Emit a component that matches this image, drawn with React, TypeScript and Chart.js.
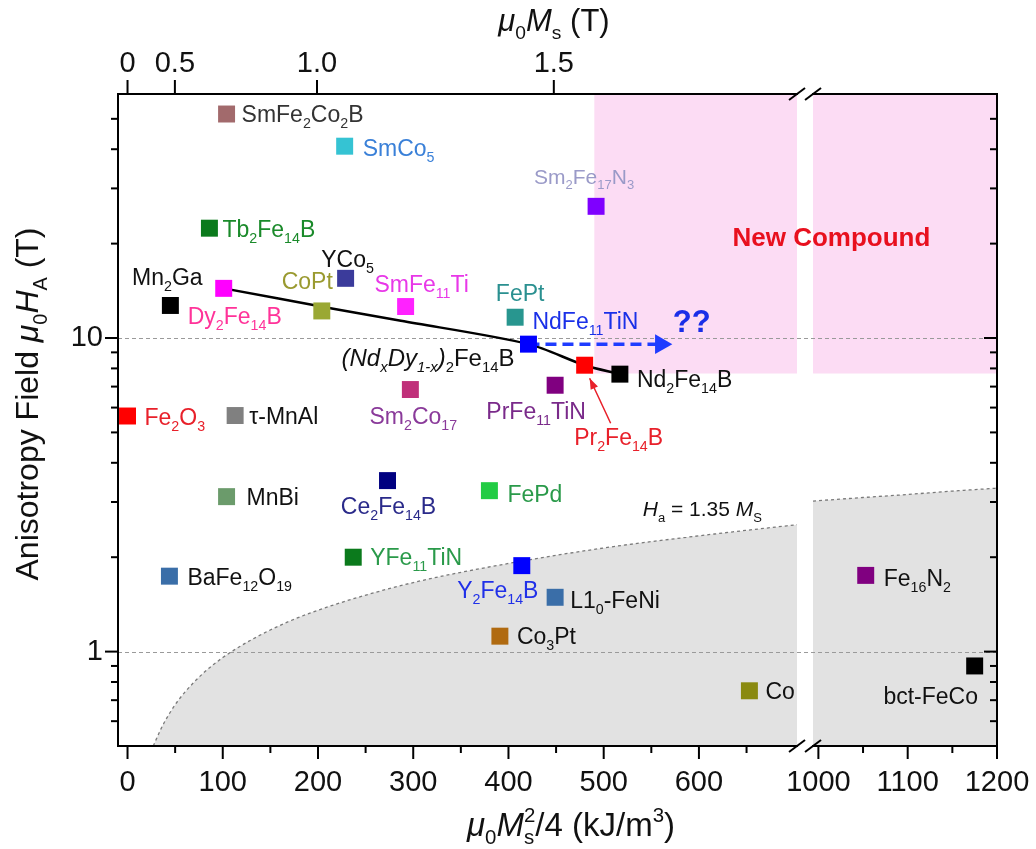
import React, { useEffect, useRef } from 'react';
import { Chart, registerables, LinearScale } from 'chart.js';

// ---------------- data ----------------
const compounds = [
  'SmFe_2Co_2B', 'SmCo_5', 'Sm_2Fe_{17}N_3', 'Tb_2Fe_{14}B', 'YCo_5', 'Mn_2Ga', 'Dy_2Fe_{14}B',
  'CoPt', 'SmFe_{11}Ti', 'FePt', 'NdFe_{11}TiN', 'Pr_2Fe_{14}B', 'Nd_2Fe_{14}B', 'PrFe_{11}TiN',
  'Sm_2Co_{17}', 'Fe_2O_3', 'τ-MnAl', 'MnBi', 'Ce_2Fe_{14}B', 'FePd', 'YFe_{11}TiN',
  'BaFe_{12}O_{19}', 'Y_2Fe_{14}B', 'L1_0-FeNi', 'Co_3Pt', 'Co', 'Fe_{16}N_2', 'bct-FeCo',
];
// μ0Ms²/4 (kJ/m³)
const energyDensity = [
  104, 228, 492, 86, 229, 45, 101,
  204, 292, 407, 421, 480, 517, 449,
  297, 0, 113, 104, 273, 380, 237,
  44, 414, 449, 391, 653, 1053, 1175,
];
// μ0HA (T)
const anisotropyField = [
  51.8, 40.9, 26.3, 22.4, 15.5, 12.7, 14.4,
  12.2, 12.6, 11.65, 9.56, 8.19, 7.67, 7.07,
  6.85, 5.64, 5.66, 3.12, 3.51, 3.26, 2.0,
  1.74, 1.88, 1.49, 1.12, 0.75, 1.75, 0.9,
];

// (NdxDy1-x)2Fe14B line
const ndDyX = [101, 216, 287, 421, 480, 517];
const ndDyY = [14.4, 12.4, 11.35, 9.56, 8.19, 7.67];

// dashed "??" arrow
const arrowX = [421, 560];
const arrowY = [9.56, 9.56];

// Ha = 1.35 Ms boundary
const limitLeftX = [27, 30, 35, 40, 50, 60, 80, 100, 130, 170, 220, 300, 400, 500, 600, 703];
const limitLeftY = [0.5, 0.524, 0.566, 0.605, 0.677, 0.741, 0.856, 0.957, 1.09, 1.25, 1.42, 1.66, 1.91, 2.14, 2.34, 2.54];
const limitRightX = [994, 1050, 1100, 1150, 1200];
const limitRightY = [3.02, 3.1, 3.17, 3.25, 3.32];

// "New Compound" region
const newCompoundLeftX = [490, 703];
const newCompoundRightX = [994, 1200];
const newCompoundMinField = 7.7;

// axes
const bottomTicks = [0, 100, 200, 300, 400, 500, 600, 1000, 1100, 1200];
const bottomMinorTicks = [50, 150, 250, 350, 450, 550, 650, 1050, 1150];
const topTicksTesla = [0, 0.5, 1.0, 1.5];
const topTickLabels = ['0', '0.5', '1.0', '1.5'];
const yMajorTicks = [1, 10];
const yMinorTicks = [0.6, 0.7, 0.8, 0.9, 2, 3, 4, 5, 6, 7, 8, 9, 20, 30, 40, 50];

// ---------------- styles ----------------
const markerColors = [
  '#a26a6c', '#35c3d3', '#7f00ff', '#0b7a1c', '#3b3b9b', '#000000', '#ff00ff',
  '#9aa834', '#ff22ff', '#28968f', '#0000ff', '#ff0000', '#000000', '#800080',
  '#c0307a', '#ff0000', '#808080', '#6b9b6b', '#000080', '#22cc44', '#0b7a1c',
  '#3a6ea8', '#0000ff', '#3a6ea8', '#b06a10', '#8a8a10', '#800080', '#000000',
];
const labelColors = [
  '#333333', '#3a80d8', '#9a9ac8', '#1a8a2a', '#111111', '#111111', '#ff3399',
  '#9a9a30', '#e838e8', '#2a9090', '#1a30e8', '#e8202a', '#111111', '#7a2a8a',
  '#8a3a9a', '#e8202a', '#111111', '#111111', '#2a2a8a', '#2a9a4a', '#2a9a4a',
  '#111111', '#2030e8', '#111111', '#111111', '#111111', '#111111', '#111111',
];
// [dx, dy, align, size] relative to marker centre (px)
const labelPlacement: any[] = [
  [15, 0, 'left', 23], [18, 2, 'left', 23], [-12, -30, 'center', 21], [13, 1, 'left', 23],
  [2, -20, 'center', 23], [-3, -29, 'center', 23], [11, 27, 'center', 23],
  [11, -30, 'right', 23], [16, -23, 'center', 23], [5, -24, 'center', 23], [4, -23, 'left', 23],
  [34, 72, 'center', 23], [17, 5, 'left', 23], [-19, 26, 'center', 23],
  [3, 26, 'center', 23], [17, 1, 'left', 23], [14, 0, 'left', 23], [20, 0, 'left', 23],
  [1, 25, 'center', 23], [18, 3, 'left', 23], [17, 0, 'left', 23],
  [18, 1, 'left', 23], [-24, 24, 'center', 23], [15, 2, 'left', 23], [17, 0, 'left', 23],
  [16, 0, 'left', 23], [18, 2, 'left', 23], [-44, 30, 'center', 23],
];

const FONT = '"Liberation Sans", Arial, Helvetica, sans-serif';
const AXIS_BREAK = { lo: 703, hi: 994, fracLo: 0.7725, fracHi: 0.7907 };
const MU0 = 4 * Math.PI * 1e-7;
const teslaToKJ = (t: number) => (t * t) / (4 * MU0) / 1000;

// ---------------- broken linear scale ----------------
class BrokenLinearScale extends (LinearScale as any) {
  static id = 'brokenLinear';
  static defaults = (LinearScale as any).defaults;
  toDecimal(v: number) {
    const { lo, hi, fracLo, fracHi } = AXIS_BREAK;
    const min = this.min;
    const max = this.max;
    if (v <= lo) return ((v - min) / (lo - min)) * fracLo;
    if (v >= hi) return fracHi + ((v - hi) / (max - hi)) * (1 - fracHi);
    return fracLo + ((v - lo) / (hi - lo)) * (fracHi - fracLo);
  }
  getPixelForValue(value: any) {
    if (value === null || value === undefined || Number.isNaN(value)) return NaN;
    return this.getPixelForDecimal(this.toDecimal(value));
  }
  getValueForPixel(pixel: number) {
    const d = this.getDecimalForPixel(pixel);
    const { lo, hi, fracLo, fracHi } = AXIS_BREAK;
    if (d <= fracLo) return this.min + (d / fracLo) * (lo - this.min);
    if (d >= fracHi) return hi + ((d - fracHi) / (1 - fracHi)) * (this.max - hi);
    return lo + ((d - fracLo) / (fracHi - fracLo)) * (hi - lo);
  }
  getPadding() {
    return { left: 0, top: 0, right: 0, bottom: 0 };
  }
}

Chart.register(...registerables, BrokenLinearScale as any);

// ---------------- rich text helper ----------------
type Run = { text: string; kind: 'n' | 'sub' | 'sup'; italic: boolean; stack: boolean };
function parseRich(s: string): Run[] {
  const runs: Run[] = [];
  let italic = false;
  let buf = '';
  let i = 0;
  const flush = () => {
    if (buf) {
      runs.push({ text: buf, kind: 'n', italic, stack: false });
      buf = '';
    }
  };
  while (i < s.length) {
    const c = s[i];
    if (c === '~') {
      flush();
      italic = !italic;
      i++;
      continue;
    }
    if (c === '_' || c === '^') {
      const hadBuf = buf.length > 0;
      flush();
      let t = '';
      if (s[i + 1] === '{') {
        const j = s.indexOf('}', i + 2);
        t = s.slice(i + 2, j);
        i = j + 1;
      } else {
        t = s[i + 1];
        i += 2;
      }
      const kind = c === '_' ? 'sub' : 'sup';
      const prev = runs[runs.length - 1];
      const stack = !hadBuf && !!prev && prev.kind !== 'n' && prev.kind !== kind;
      runs.push({ text: t, kind, italic, stack });
      continue;
    }
    buf += c;
    i++;
  }
  flush();
  return runs;
}

function drawRich(
  ctx: CanvasRenderingContext2D, s: string, x: number, y: number, size: number,
  color: string, align: string = 'left', bold = false,
) {
  const runs = parseRich(s);
  const small = size * 0.62;
  const fontFor = (r: Run) =>
    `${r.italic ? 'italic ' : ''}${bold ? 'bold ' : ''}${r.kind === 'n' ? size : small}px ${FONT}`;
  let w = 0;
  let lastW = 0;
  const xs: number[] = [];
  for (const r of runs) {
    ctx.font = fontFor(r);
    const rw = ctx.measureText(r.text).width;
    if (r.stack) {
      xs.push(w - lastW);
      w += Math.max(0, rw - lastW);
      lastW = Math.max(lastW, rw);
    } else {
      xs.push(w);
      w += rw;
      lastW = rw;
    }
  }
  const x0 = align === 'left' ? x : align === 'center' ? x - w / 2 : x - w;
  const base = y + 0.358 * size;
  ctx.save();
  ctx.fillStyle = color;
  ctx.textAlign = 'left';
  ctx.textBaseline = 'alphabetic';
  runs.forEach((r, k) => {
    ctx.font = fontFor(r);
    const dy = r.kind === 'sub' ? 0.26 * size : r.kind === 'sup' ? -0.42 * size : 0;
    ctx.fillText(r.text, x0 + xs[k], base + dy);
  });
  ctx.restore();
}

// ---------------- decoration plugin ----------------
const decorPlugin = {
  id: 'decor',
  beforeDatasetDraw(chart: any, args: any) {
    if (args.index !== 2) return;
    const { ctx, chartArea } = chart;
    const ys = chart.scales.y;
    ctx.save();
    ctx.strokeStyle = '#9a9a9a';
    ctx.lineWidth = 1;
    ctx.setLineDash([4, 3]);
    for (const v of yMajorTicks) {
      const py = Math.round(ys.getPixelForValue(v)) + 0.5;
      ctx.beginPath();
      ctx.moveTo(chartArea.left, py);
      ctx.lineTo(chartArea.right, py);
      ctx.stroke();
    }
    ctx.restore();
  },
  afterDatasetsDraw(chart: any) {
    const { ctx } = chart;
    const xs = chart.scales.x;
    const ys = chart.scales.y;
    const meta = chart.getDatasetMeta(0);
    meta.data.forEach((pt: any, i: number) => {
      const [dx, dy, align, size] = labelPlacement[i];
      drawRich(ctx, compounds[i], pt.x + dx, pt.y + dy, size, labelColors[i], align);
    });
    // arrow to Pr2Fe14B
    const pr = meta.data[11];
    const tx = pr.x + 26, ty = pr.y + 58, hx = pr.x + 5, hy = pr.y + 13;
    ctx.save();
    ctx.strokeStyle = '#e8202a';
    ctx.fillStyle = '#e8202a';
    ctx.lineWidth = 1.5;
    ctx.beginPath();
    ctx.moveTo(tx, ty);
    ctx.lineTo(hx, hy);
    ctx.stroke();
    const ang = Math.atan2(hy - ty, hx - tx);
    ctx.beginPath();
    ctx.moveTo(hx, hy);
    ctx.lineTo(hx - 11 * Math.cos(ang) + 4 * Math.sin(ang), hy - 11 * Math.sin(ang) - 4 * Math.cos(ang));
    ctx.lineTo(hx - 11 * Math.cos(ang) - 4 * Math.sin(ang), hy - 11 * Math.sin(ang) + 4 * Math.cos(ang));
    ctx.closePath();
    ctx.fill();
    ctx.restore();
    // line label
    const nd = chart.getDatasetMeta(2).data;
    drawRich(ctx, '~(Nd_xDy_{1-x})~_2Fe_{14}B', nd[3].x - 14, nd[3].y + 13, 24, '#111111', 'right');
    // arrow label
    const ar = chart.getDatasetMeta(1).data;
    drawRich(ctx, '??', ar[1].x + 12, ar[1].y - 23, 31, '#1a2ee8', 'left', true);
    // Ha label
    drawRich(ctx, '~H~_a = 1.35 ~M~_S', xs.getPixelForValue(541), ys.getPixelForValue(2.85), 21, '#111111', 'left');
    // New Compound
    drawRich(ctx, 'New Compound', xs.getPixelForValue(1000) + 13, ys.getPixelForValue(21), 26, '#e8101e', 'center', true);
  },
  afterDraw(chart: any) {
    const { ctx, chartArea } = chart;
    const { left, right, top, bottom } = chartArea;
    const xs = chart.scales.x;
    const ys = chart.scales.y;
    ctx.save();
    ctx.strokeStyle = '#000';
    ctx.lineWidth = 2;
    ctx.setLineDash([]);
    ctx.strokeRect(left, top, right - left, bottom - top);
    const line = (x1: number, y1: number, x2: number, y2: number) => {
      ctx.beginPath();
      ctx.moveTo(x1, y1);
      ctx.lineTo(x2, y2);
      ctx.stroke();
    };
    // bottom ticks
    for (const v of bottomTicks) {
      const px = xs.getPixelForValue(v);
      line(px, bottom, px, bottom + 13);
    }
    for (const v of bottomMinorTicks) {
      const px = xs.getPixelForValue(v);
      line(px, bottom, px, bottom + 7);
    }
    // top ticks
    for (const t of topTicksTesla) {
      const px = xs.getPixelForValue(teslaToKJ(t));
      line(px, top, px, top - 14);
    }
    // left & right ticks
    for (const v of yMajorTicks) {
      const py = ys.getPixelForValue(v);
      line(left - 13, py, left, py);
      line(right - 13, py, right, py);
    }
    for (const v of yMinorTicks) {
      const py = ys.getPixelForValue(v);
      line(left - 7, py, left, py);
      line(right - 7, py, right, py);
    }
    // axis break marks
    const bl = xs.getPixelForValue(AXIS_BREAK.lo);
    const bh = xs.getPixelForValue(AXIS_BREAK.hi);
    for (const yy of [top, bottom]) {
      ctx.fillStyle = '#fff';
      ctx.fillRect(bl + 1, yy - 3, bh - bl - 2, 6);
      line(bl - 8, yy + 6, bl + 8, yy - 6);
      line(bh - 8, yy + 6, bh + 8, yy - 6);
    }
    ctx.restore();
    // axis titles
    drawRich(ctx, '~μ~_0~M~_s (T)', 554, 20, 31, '#111111', 'center');
    drawRich(ctx, '~μ~_0~M~_s^2/4 (kJ/m^3)', 571, 824, 33, '#111111', 'center');
    ctx.save();
    ctx.translate(27, 404);
    ctx.rotate(-Math.PI / 2);
    drawRich(ctx, 'Anisotropy Field ~μ~_0~H~_A (T)', 0, 0, 32, '#111111', 'center');
    ctx.restore();
  },
};

export default function App() {
  const ref = useRef<HTMLCanvasElement>(null);
  useEffect(() => {
    const canvas = ref.current;
    if (!canvas) return;
    const pts = energyDensity.map((x, i) => ({ x, y: anisotropyField[i] }));
    const xy = (xa: number[], ya: number[]) => xa.map((x, i) => ({ x, y: ya[i] }));
    const flat = (xa: number[]) => xa.map((x) => ({ x, y: newCompoundMinField }));
    const tickFont = { family: FONT, size: 29 };
    const chart = new Chart(canvas, {
      type: 'scatter',
      data: {
        datasets: [
          {
            data: pts,
            pointStyle: 'rect',
            pointRadius: 12,
            pointBorderWidth: 0,
            backgroundColor: markerColors,
            pointBackgroundColor: markerColors,
            borderColor: 'rgba(0,0,0,0)',
          } as any,
          {
            type: 'line',
            data: xy(arrowX, arrowY),
            borderColor: '#1f3cff',
            borderWidth: 3.5,
            borderDash: [11, 6],
            pointStyle: 'triangle',
            pointRadius: [0, 11.5],
            pointRotation: 90,
            pointBackgroundColor: '#1f3cff',
            pointBorderWidth: 0,
            fill: false,
          } as any,
          {
            type: 'line',
            data: xy(ndDyX, ndDyY),
            borderColor: '#000000',
            borderWidth: 2.5,
            tension: 0.3,
            pointRadius: 0,
            fill: false,
          } as any,
          {
            type: 'line',
            data: xy(limitLeftX, limitLeftY),
            borderColor: '#7a7a7a',
            borderWidth: 1.3,
            borderDash: [3, 3],
            cubicInterpolationMode: 'monotone',
            pointRadius: 0,
            fill: 'start',
            backgroundColor: '#e2e2e2',
          } as any,
          {
            type: 'line',
            data: xy(limitRightX, limitRightY),
            borderColor: '#7a7a7a',
            borderWidth: 1.3,
            borderDash: [3, 3],
            cubicInterpolationMode: 'monotone',
            pointRadius: 0,
            fill: 'start',
            backgroundColor: '#e2e2e2',
          } as any,
          {
            type: 'line',
            data: flat(newCompoundLeftX),
            borderColor: 'rgba(0,0,0,0)',
            borderWidth: 1,
            pointRadius: 0,
            fill: 'end',
            backgroundColor: '#fcdcf4',
          } as any,
          {
            type: 'line',
            data: flat(newCompoundRightX),
            borderColor: 'rgba(0,0,0,0)',
            borderWidth: 1,
            pointRadius: 0,
            fill: 'end',
            backgroundColor: '#fcdcf4',
          } as any,
        ],
      },
      options: {
        animation: false,
        responsive: false,
        events: [],
        layout: { padding: { left: 0, top: 0, right: 39, bottom: 0 } },
        plugins: { legend: { display: false }, tooltip: { enabled: false } },
        scales: {
          x: {
            type: 'brokenLinear',
            position: 'bottom',
            min: -10,
            max: 1200,
            afterBuildTicks: (s: any) => { s.ticks = bottomTicks.map((v) => ({ value: v })); },
            afterFit: (s: any) => { s.height = 103; },
            grid: { display: false, drawTicks: false },
            border: { display: false },
            ticks: {
              autoSkip: false, maxRotation: 0, padding: 20, color: '#111111', font: tickFont,
              callback: (v: any) => String(v),
            },
          },
          xTop: {
            type: 'brokenLinear',
            position: 'top',
            min: -10,
            max: 1200,
            afterBuildTicks: (s: any) => { s.ticks = topTicksTesla.map((t) => ({ value: teslaToKJ(t) })); },
            afterFit: (s: any) => { s.height = 94; },
            grid: { display: false, drawTicks: false },
            border: { display: false },
            ticks: {
              autoSkip: false, maxRotation: 0, padding: 13, color: '#111111', font: tickFont,
              callback: (_v: any, i: number) => topTickLabels[i],
            },
          },
          y: {
            type: 'logarithmic',
            position: 'left',
            min: 0.5,
            max: 60,
            afterBuildTicks: (s: any) => { s.ticks = yMajorTicks.map((v) => ({ value: v })); },
            afterFit: (s: any) => { s.width = 118; },
            grid: { display: false, drawTicks: false },
            border: { display: false },
            ticks: {
              autoSkip: false, padding: 15, color: '#111111', font: tickFont,
              callback: (v: any) => String(v),
            },
          },
        } as any,
      },
      plugins: [decorPlugin as any],
    });
    return () => chart.destroy();
  }, []);
  return (
    <canvas
      ref={ref}
      width={1036}
      height={849}
      style={{ position: 'absolute', left: 0, top: 0, width: 1036, height: 849 }}
    />
  );
}
